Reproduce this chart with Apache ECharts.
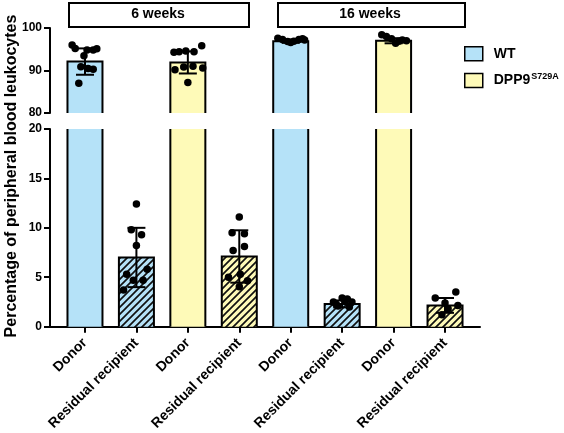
<!DOCTYPE html>
<html>
<head>
<meta charset="utf-8">
<script src="https://cdn.jsdelivr.net/npm/echarts@6/dist/echarts.min.js"></script>
<style>html,body{margin:0;padding:0;background:#fff}#c{width:564px;height:433px}</style>
</head>
<body>
<div id="c"></div>
<script>
const categories = ['Donor','Residual recipient','Donor','Residual recipient','Donor','Residual recipient','Donor','Residual recipient'];
const genotypes = ['WT','WT','DPP9','DPP9','WT','WT','DPP9','DPP9'];
const hatched = [0,1,0,1,0,1,0,1];
const means = [92.1, 7.0, 91.9, 7.1, 96.9, 2.3, 97.0, 2.15];
const sds = [3.1, 3.0, 2.6, 2.65, 0.4, 0.35, 0.6, 0.75];
const pointValues = [
  [96.0, 95.2, 94.8, 94.8, 95.1, 93.5, 90.9, 90.5, 90.3, 87.0],
  [12.4, 9.8, 9.3, 8.2, 5.3, 5.8, 4.7, 4.7, 3.7],
  [94.3, 94.4, 94.6, 94.4, 95.8, 90.2, 90.8, 91.0, 90.6, 87.2],
  [11.1, 9.5, 9.4, 7.7, 8.1, 5.0, 5.3, 4.05, 4.65],
  [97.6, 97.3, 96.8, 96.6, 96.9, 97.3, 97.5, 97.2],
  [2.5, 2.9, 2.8, 2.5, 2.1, 2.3, 2.6, 2.0],
  [98.4, 98.0, 97.5, 96.4, 96.9, 97.2, 97.0],
  [2.9, 3.5, 2.4, 2.15, 1.2, 1.8]
];
const pointJitter = [
  [-0.25, -0.19, 0.04, 0.16, 0.23, -0.02, -0.08, 0.06, 0.16, -0.12],
  [0, -0.1, 0.1, 0, -0.19, 0.21, -0.06, 0.13, -0.25],
  [-0.27, -0.17, -0.04, 0.12, 0.27, -0.25, -0.08, 0.1, 0.29, 0],
  [0, -0.14, 0.1, -0.12, 0.1, -0.21, 0.02, 0, 0.16],
  [-0.25, -0.16, -0.06, 0, 0.06, 0.16, 0.23, 0.27],
  [-0.17, 0, 0.1, 0.19, -0.08, -0.12, 0.06, 0.14],
  [-0.23, -0.14, -0.04, 0.04, 0.1, 0.17, 0.25],
  [-0.19, 0.21, 0, 0.25, -0.06, 0.06]
];
const weekLabels = ['6 weeks', '16 weeks'];
const yTicksTop = [80, 100, 10];
const yTicksBottom = [0, 20, 5];

const colors = { WT: '#b5e2f8', DPP9: '#fefab8' };
function hatchPattern(bg) {
  const c = document.createElement('canvas');
  c.width = 7; c.height = 7;
  const g = c.getContext('2d');
  g.fillStyle = bg; g.fillRect(0, 0, 7, 7);
  g.strokeStyle = '#111'; g.lineWidth = 1.7;
  g.beginPath();
  g.moveTo(-1, 8); g.lineTo(8, -1);
  g.moveTo(-2, 2); g.lineTo(2, -2);
  g.moveTo(5, 9); g.lineTo(9, 5);
  g.stroke();
  return { image: c, repeat: 'repeat' };
}
const patterns = { WT: hatchPattern(colors.WT), DPP9: hatchPattern(colors.DPP9) };

const BAR_W = 35;
function renderBar(params, api) {
  const cs = params.coordSys;
  const x = api.value(0), v = api.value(1), h = api.value(2);
  const g = genotypes[x];
  const p = api.coord([x, v]);
  const cx = p[0];
  let yTop = p[1];
  const yBot = cs.y + cs.height;
  const clipped = yTop < cs.y;
  if (clipped) yTop = cs.y;
  if (yTop >= yBot - 0.5) return null;
  const x0 = cx - BAR_W / 2, x1 = cx + BAR_W / 2;
  const children = [{
    type: 'rect',
    shape: { x: x0, y: yTop, width: BAR_W, height: yBot - yTop },
    style: { fill: h ? patterns[g] : colors[g], stroke: null }
  }];
  if (clipped) {
    children.push({ type: 'line', shape: { x1: x0, y1: yTop, x2: x0, y2: yBot }, style: { stroke: '#000', lineWidth: 2 } });
    children.push({ type: 'line', shape: { x1: x1, y1: yTop, x2: x1, y2: yBot }, style: { stroke: '#000', lineWidth: 2 } });
  } else {
    children.push({ type: 'polyline', shape: { points: [[x0, yBot], [x0, yTop], [x1, yTop], [x1, yBot]] }, style: { stroke: '#000', lineWidth: 2, fill: null } });
  }
  return { type: 'group', children };
}
function renderErr(params, api) {
  const x = api.value(0), m = api.value(1), s = api.value(2);
  const a = api.coord([x, m + s]), b = api.coord([x, m - s]);
  const cx = a[0], hw = 9;
  const st = { stroke: '#000', lineWidth: 2 };
  return { type: 'group', children: [
    { type: 'line', shape: { x1: cx, y1: a[1], x2: cx, y2: b[1] }, style: st },
    { type: 'line', shape: { x1: cx - hw, y1: a[1], x2: cx + hw, y2: a[1] }, style: st },
    { type: 'line', shape: { x1: cx - hw, y1: b[1], x2: cx + hw, y2: b[1] }, style: st }
  ]};
}

const idx = categories.map((_, i) => i);
function barData(g) { return idx.filter(i => genotypes[i] === g).map(i => [i, means[i], hatched[i]]); }
function errData(top) { return idx.filter(i => (means[i] >= 80) === top).map(i => [i, means[i], sds[i]]); }
function ptData(top) {
  const out = [];
  idx.forEach(i => pointValues[i].forEach((v, k) => { if ((v >= 80) === top) out.push([i + pointJitter[i][k], v]); }));
  return out;
}

const FONT = 'Liberation Sans, Arial, sans-serif';
const xMin = -0.68, xMax = 7.68;

const series = [];
['WT', 'DPP9'].forEach(g => {
  [0, 1].forEach(gi => series.push({
    type: 'custom', name: g, xAxisIndex: gi, yAxisIndex: gi, renderItem: renderBar,
    data: barData(g), z: 2, itemStyle: { color: colors[g] }, silent: true
  }));
});
[0, 1].forEach(gi => {
  series.push({ type: 'custom', xAxisIndex: gi, yAxisIndex: gi, renderItem: renderErr, data: errData(gi === 0), z: 3, silent: true });
  series.push({ type: 'scatter', xAxisIndex: gi, yAxisIndex: gi, data: ptData(gi === 0), symbolSize: 7.5,
    itemStyle: { color: '#000', opacity: 1 }, z: 4, silent: true });
});

function yAxisOpt(gi, t) {
  return { type: 'value', gridIndex: gi, min: t[0], max: t[1], interval: t[2], splitLine: { show: false },
    axisLine: { show: true, onZero: false, lineStyle: { color: '#000', width: 2 } },
    axisTick: { show: true, length: 6, lineStyle: { color: '#000', width: 2 } },
    axisLabel: { margin: 8, color: '#000', fontWeight: 'bold', fontSize: 12, fontFamily: FONT } };
}

const chart = echarts.init(document.getElementById('c'), null, { renderer: 'canvas' });
chart.setOption({
  animation: false,
  textStyle: { fontFamily: FONT },
  grid: [
    { left: 50, top: 28, width: 430, height: 85 },
    { left: 50, top: 129, width: 430, height: 199 }
  ],
  xAxis: [
    { type: 'value', gridIndex: 0, min: xMin, max: xMax, show: false },
    { type: 'value', gridIndex: 1, min: xMin, max: xMax, splitLine: { show: false },
      axisLine: { show: true, onZero: false, lineStyle: { color: '#000', width: 2 } },
      axisTick: { show: true, length: 6, lineStyle: { color: '#000', width: 2 }, customValues: idx },
      axisLabel: { customValues: idx, rotate: 45, margin: 14, color: '#000', fontWeight: 'bold', fontSize: 14, fontFamily: FONT,
        formatter: v => categories[Math.round(v)] } }
  ],
  yAxis: [ yAxisOpt(0, yTicksTop), yAxisOpt(1, yTicksBottom) ],
  legend: {
    orient: 'vertical', left: 464, top: 46, padding: 0, itemWidth: 18, itemHeight: 14, itemGap: 11, selectedMode: false,
    data: [
      { name: 'WT', icon: 'rect', itemStyle: { color: colors.WT, borderColor: '#000', borderWidth: 1.5 } },
      { name: 'DPP9', icon: 'rect', itemStyle: { color: colors.DPP9, borderColor: '#000', borderWidth: 1.5 } }
    ],
    formatter: n => n === 'DPP9' ? 'DPP9{sup|S729A}' : n,
    textStyle: { color: '#000', fontWeight: 'bold', fontSize: 14, fontFamily: FONT, padding: [0, 0, 0, 6],
      rich: { sup: { fontSize: 9, fontWeight: 'bold', color: '#000', fontFamily: FONT, verticalAlign: 'top', padding: [0, 0, 7, 1] } } }
  },
  graphic: [
    { type: 'rect', left: 68, top: 2, shape: { width: 180, height: 24 }, style: { fill: '#fff', stroke: '#000', lineWidth: 2 } },
    { type: 'text', x: 158, y: 14, style: { text: weekLabels[0], fill: '#000', font: 'bold 14px ' + FONT, textAlign: 'center', textVerticalAlign: 'middle' } },
    { type: 'rect', left: 277, top: 2, shape: { width: 187, height: 24 }, style: { fill: '#fff', stroke: '#000', lineWidth: 2 } },
    { type: 'text', x: 370, y: 14, style: { text: weekLabels[1], fill: '#000', font: 'bold 14px ' + FONT, textAlign: 'center', textVerticalAlign: 'middle' } },
    { type: 'text', x: 12, y: 176, rotation: Math.PI / 2, style: { text: 'Percentage of peripheral blood leukocytes', fill: '#000', font: 'bold 16px ' + FONT, textAlign: 'center', textVerticalAlign: 'middle' } }
  ],
  series
});
</script>
</body>
</html>
